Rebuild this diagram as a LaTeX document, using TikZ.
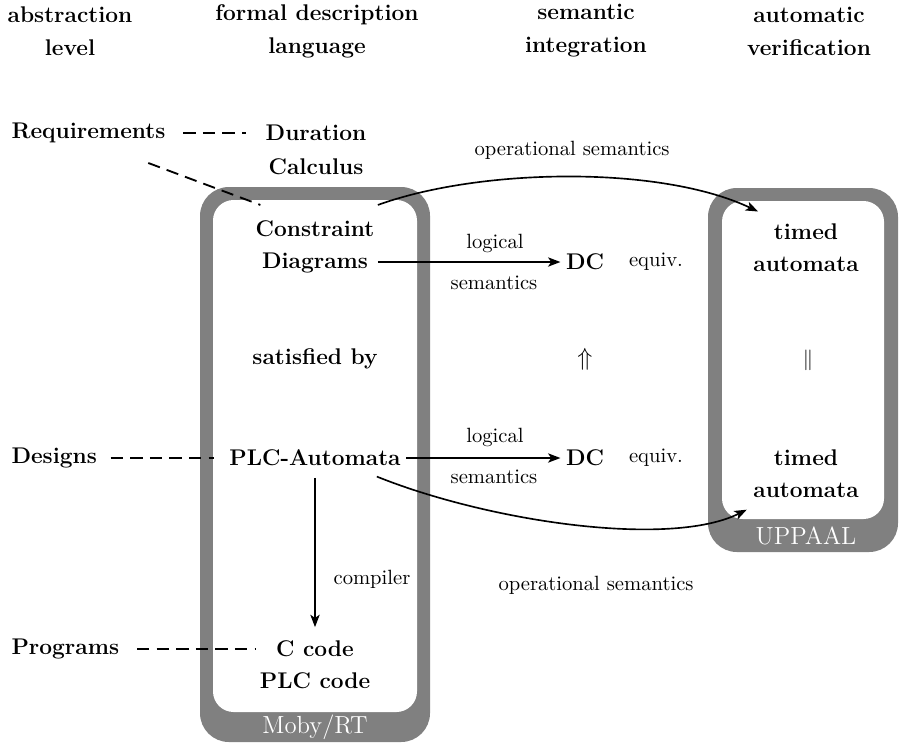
\documentclass[tikz,border=0pt]{standalone}
\usetikzlibrary{arrows.meta}
\definecolor{boxgray}{gray}{0.5}
\begin{document}
\begin{tikzpicture}[x=0.485pt,y=-0.485pt,
  lbl/.style={font={\fontsize{11}{15.5}\selectfont\bfseries}, align=center, inner sep=1.5pt},
  hdr/.style={font={\fontsize{11}{16}\selectfont\bfseries}, align=center, inner sep=0pt},
  note/.style={font={\fontsize{10}{12}\selectfont}, inner sep=0pt},
  tag/.style={font={\fontsize{12}{14}\selectfont}, text=white, inner sep=0pt},
  link/.style={line width=0.9pt, dash pattern=on 6pt off 3.5pt},
  flow/.style={line width=0.8pt, -{Stealth[length=6pt,width=4.5pt,inset=1.5pt]}},
  tool/.style={fill=boxgray, rounded corners=14pt},
  pane/.style={fill=white, rounded corners=10pt}]
\useasboundingbox (0,0) rectangle (910,743);

% tool frames
\fill[tool] (200,187) rectangle (430,742);
\fill[pane] (213,200) rectangle (417,712);
\fill[tool] (708,188) rectangle (898,552);
\fill[pane] (722,201) rectangle (884,519);
\node[tag] (moby) at (315,727) {Moby/RT};
\node[tag] (uppaal) at (806,536) {UPPAAL};

% column headers
\node[hdr] (h1) at (70,31) {abstraction\\level};
\node[hdr] (h2) at (317,31) {formal description\\language};
\node[hdr] (h3) at (586,31) {semantic\\integration};
\node[hdr] (h4) at (809,31) {automatic\\verification};

% abstraction levels
\node[lbl, anchor=west] (req) at (8,133) {Requirements};
\node[lbl, anchor=west] (des) at (8,458) {Designs};
\node[lbl, anchor=west] (prog) at (8,649) {Programs};

% formal description languages
\node[lbl, font={\fontsize{11}{16.5}\selectfont\bfseries}] (dur) at (316,150) {Duration\\Calculus};
\node[lbl] (cons) at (315,247) {Constraint\\Diagrams};
\node[lbl] (sat) at (315,359) {satisfied by};
\node[lbl] (plc) at (315,458) {PLC-Automata};
\node[lbl] (code) at (315,665) {C code\\PLC code};

% semantic integration
\node[lbl] (dc1) at (585,262) {DC};
\node[note] (eq1) at (656,262) {equiv.};
\node[lbl, font={\fontsize{12}{14}\selectfont}] (up) at (585,359) {$\Uparrow$};
\node[lbl] (dc2) at (585,458) {DC};
\node[note] (eq2) at (656,458) {equiv.};

% automatic verification
\node[lbl] (ta1) at (806,248) {timed\\automata};
\node[note] (par) at (808,360) {$\|$};
\node[lbl] (ta2) at (806,474) {timed\\automata};

% level links
\draw[link, shorten <=7pt, shorten >=8pt] (req.east) -- (req.east -| dur.west);
\draw[link] ([xshift=-10pt,yshift=-8pt]req.south east) -- ([xshift=4pt,yshift=6pt]cons.north west);
\draw[link, shorten <=5pt, shorten >=6pt] (des.east) -- (plc.west);
\draw[link, shorten <=7pt] (prog.east) -- (prog.east -| code.west);

% semantic mappings
\draw[flow, shorten >=1pt] (cons.east |- dc1.west) -- (dc1.west);
\node[note] (log1) at (495,243) {logical};
\node[note] (sem1) at (494,283) {semantics};
\draw[flow, shorten <=1pt, shorten >=1pt] (plc.east) -- (dc2.west);
\node[note] (log2) at (495,437) {logical};
\node[note] (sem2) at (494,477) {semantics};

\draw[flow] ([yshift=6pt]cons.north east) .. controls (480,168) and (660,165) .. ([shift={(4pt,4.4pt)}]ta1.north west);
\node[note] (op1) at (572,150) {operational semantics};
\draw[flow] ([shift={(30pt,-3.4pt)}]plc.south) .. controls (490,522) and (670,548) .. ([shift={(-1.5pt,-4pt)}]ta2.south west);
\node[note] (op2) at (596,585) {operational semantics};

% compilation
\draw[flow, shorten <=4pt, shorten >=5pt] (code.north |- plc.south) -- (code.north);
\node[note] (comp) at (372,579) {compiler};
\end{tikzpicture}
\end{document}
